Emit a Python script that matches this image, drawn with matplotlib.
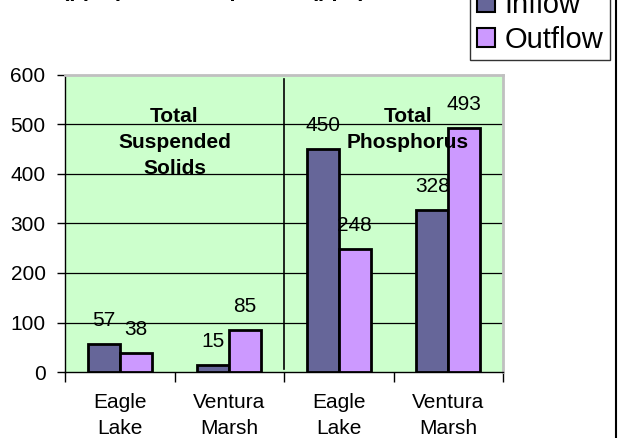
import numpy as np
import matplotlib
matplotlib.use("Agg")
import matplotlib.pyplot as plt
from matplotlib.patches import Patch
from matplotlib.lines import Line2D

plt.rcParams['font.family'] = ['Liberation Sans', 'DejaVu Sans']

# data
sites = ["Eagle\nLake", "Ventura\nMarsh", "Eagle\nLake", "Ventura\nMarsh"]
inflow = [57, 15, 450, 328]
outflow = [38, 85, 248, 493]
group_names = ["Total\nSuspended\nSolids", "Total\nPhosphorus"]
yticks = [0, 100, 200, 300, 400, 500, 600]

c_in = "#666699"
c_out = "#CC99FF"
c_bg = "#CCFFCC"

W, H = 618, 438
fig = plt.figure(figsize=(W / 100, H / 100), dpi=100)
ax = fig.add_axes([65 / W, 1 - 372 / H, 438 / W, 297 / H])
ax.set_facecolor(c_bg)

x = np.arange(len(sites))
bw = 0.29
b1 = ax.bar(x - bw / 2, inflow, bw, color=c_in, edgecolor="black", linewidth=2, zorder=3)
b2 = ax.bar(x + bw / 2, outflow, bw, color=c_out, edgecolor="black", linewidth=2, zorder=3)

for bars, vals in [(b1, inflow), (b2, outflow)]:
    for b, v in zip(bars, vals):
        ax.annotate(str(v), (b.get_x() + b.get_width() / 2, v), xytext=(0, 13),
                    textcoords="offset points", ha="center", va="baseline",
                    fontsize=15, zorder=5)

ax.set_xlim(-0.5, 3.5)
ax.set_ylim(0, 600)
ax.set_yticks(yticks)
ax.tick_params(axis="y", direction="out", length=6, width=1, labelsize=15, pad=8)
ax.set_xticks(x)
ax.set_xticklabels(sites, fontsize=15, linespacing=1.45)
ax.set_xticks([-0.5, 0.5, 1.5, 2.5, 3.5], minor=True)
ax.tick_params(axis="x", which="major", length=0, pad=15)
ax.tick_params(axis="x", which="minor", length=7, width=1, direction="out")

for yv in yticks[1:-1]:
    ax.axhline(yv, color="black", linewidth=0.9, zorder=1)
ax.axvline(1.5, ymin=0.01, ymax=0.985, color="black", linewidth=1.2, zorder=2)

ax.text(0.5, 535, group_names[0], ha="center", va="top", fontsize=15,
        fontweight="bold", linespacing=1.45, zorder=4)
ax.text(2.63, 535, group_names[1], ha="center", va="top", fontsize=15,
        fontweight="bold", linespacing=1.45, zorder=4)

for s in ["top", "right"]:
    ax.spines[s].set_color("#C0C0C0")
    ax.spines[s].set_linewidth(2)
for s in ["left", "bottom"]:
    ax.spines[s].set_color("black")
    ax.spines[s].set_linewidth(1)

# title, mostly cut off at the top edge
fig.text(62 / W, 1 + 4 / H, "(ppm) and Phosphorus (ppb)", ha="left", va="baseline",
         fontsize=16, fontweight="bold")

handles = [Patch(facecolor=c_in, edgecolor="black", linewidth=1.5),
           Patch(facecolor=c_out, edgecolor="black", linewidth=1.5)]
leg = fig.legend(handles, ["Inflow", "Outflow"], loc="lower right",
                 bbox_to_anchor=(610 / W, 1 - 60 / H), fontsize=21,
                 frameon=True, fancybox=False, shadow=False, borderaxespad=0,
                 handlelength=0.62, handleheight=0.62, handletextpad=0.35,
                 labelspacing=0.22, borderpad=0.22)
leg.get_frame().set_edgecolor("black")
leg.get_frame().set_linewidth(1)

fig.add_artist(Line2D([616 / W, 616 / W], [0, 1], color="black", linewidth=1.5))

fig.savefig("out.png", dpi=100)
